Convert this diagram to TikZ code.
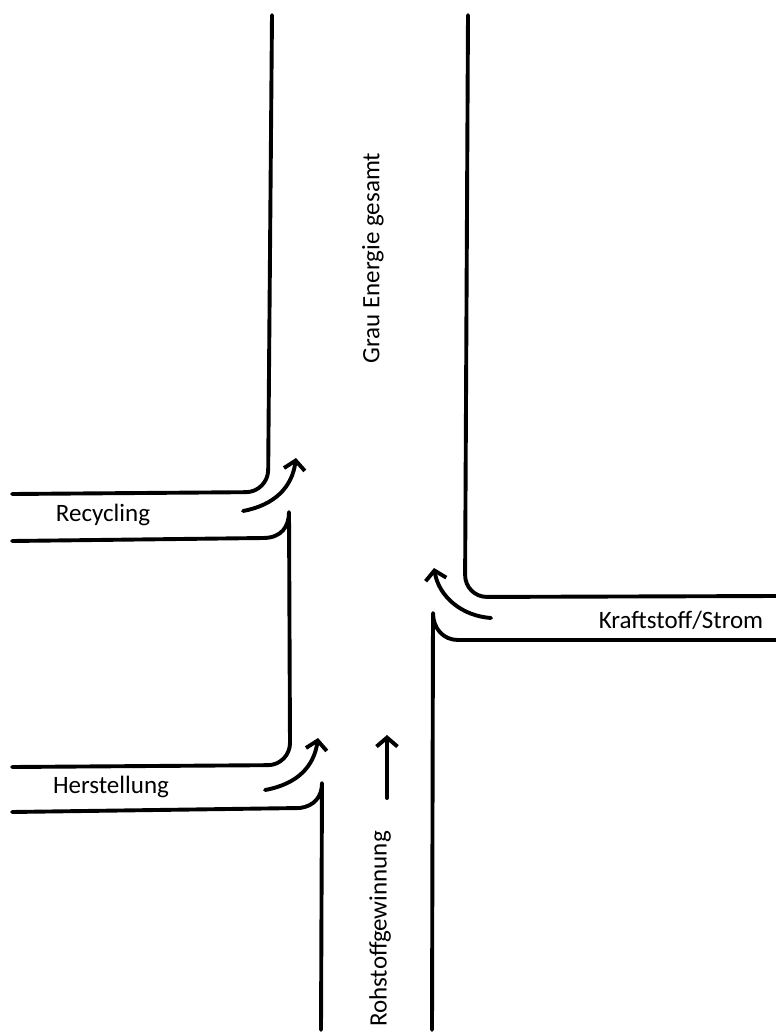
\documentclass[tikz,border=0pt]{standalone}
\usepackage{fontspec}
\setmainfont{Carlito}
\usepackage{tikz}
\usetikzlibrary{arrows.meta}
\tikzset{>={Straight Barb[length=9pt,width=21pt]}}
\tikzset{road/.style={line width=3.9pt,line cap=round,line join=round},
	flow/.style={road,->},
	lbl/.style={font=\fontsize{25}{30}\selectfont,inner sep=0pt}}
\begin{document}
\begin{tikzpicture}[x=1pt,y=-1pt]
	\useasboundingbox (0,0) rectangle (776,1034);
	% Recycling
	\draw[road,rounded corners=22pt] (272,15) -- (268,492) -- (12,494);
	\draw[road] (12,541) -- (263,538) .. controls (282,538) and (289,526) .. (289,512) -- (290,745);
	\draw[flow] (243,511) .. controls (275,505) and (292,487) .. (296,458);
	% Herstellung
	\draw[road,rounded corners=22pt] (290,740) -- (290,765) -- (12,767);
	\draw[road] (12,812) -- (300,808) .. controls (314,806) and (322,797) .. (322,783) -- (321,1030);
	\draw[flow] (265,790) .. controls (298,784) and (314,766) .. (318,738);
	% Kraftstoff/Strom
	\draw[road,rounded corners=22pt] (468,15) -- (465,597) -- (776,596);
	\draw[road] (776,640) -- (458,640) .. controls (443,640) and (433,628) .. (433,613) -- (432,1030);
	\draw[flow] (491,618) .. controls (462,616) and (439,597) .. (434,568);
	% Rohstoffgewinnung
	\draw[flow] (387,798) -- (387,735);
	\node[lbl] (recycling) at (103,515) {Recycling};
	\node[lbl] (herstellung) at (111,787) {Herstellung};
	\node[lbl] (kraftstoff) at (681,620) {Kraftstoff/Strom};
	\node[lbl,rotate=90] (grau) at (373,258) {Grau Energie gesamt};
	\node[lbl,rotate=90] (rohstoff) at (380,929) {Rohstoffgewinnung};
\end{tikzpicture}
\end{document}
